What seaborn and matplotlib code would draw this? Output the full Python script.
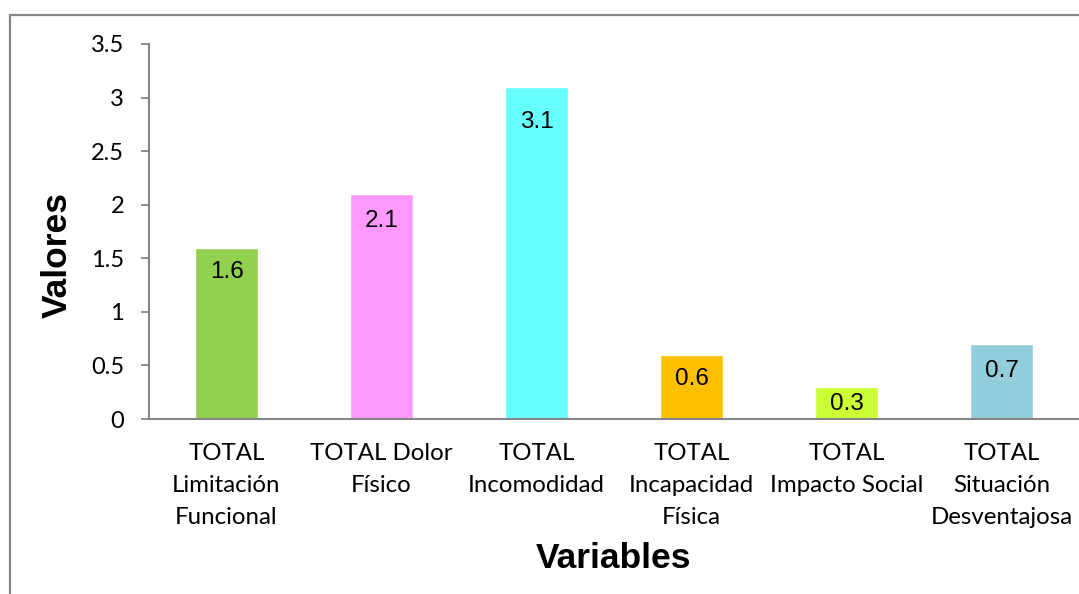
import matplotlib
matplotlib.use("Agg")
import matplotlib.pyplot as plt
import seaborn as sns
import pandas as pd
from matplotlib.patches import Rectangle

categories = ["TOTAL\nLimitación\nFuncional", "TOTAL Dolor\nFísico", "TOTAL\nIncomodidad",
              "TOTAL\nIncapacidad\nFísica", "TOTAL\nImpacto Social", "TOTAL\nSituación\nDesventajosa"]
values = [1.6, 2.1, 3.1, 0.6, 0.3, 0.7]
colors = ["#92D050", "#FF99FF", "#66FFFF", "#FFC000", "#CCFF33", "#92CDDC"]
yticks = [0, 0.5, 1, 1.5, 2, 2.5, 3, 3.5]
ytick_labels = ["0", "0.5", "1", "1.5", "2", "2.5", "3", "3.5"]
# vertical offset (px) of each value label below its bar top, as in the reference
label_offsets_px = [24, 27, 35, 24, 17, 27]

sns.set_theme(style="white")
plt.rcParams['font.family'] = ['Lato', 'DejaVu Sans']
plt.rcParams['text.color'] = 'black'

W, H = 1079, 594
fig = plt.figure(figsize=(W / 100, H / 100), dpi=100)
ax = fig.add_axes([149 / W, 1 - 419 / H, (1079 - 149) / W, (419 - 44) / H])

df = pd.DataFrame({"cat": categories, "val": values})
sns.barplot(data=df, x="cat", y="val", hue="cat", palette=colors, legend=False,
            width=0.406, ax=ax, saturation=1)

ax.set_ylim(0, 3.5)
ax.set_xlim(-0.5, len(categories) - 0.5)
ax.set_yticks(yticks)
ax.set_yticklabels(ytick_labels, fontsize=17, color="black")
ax.tick_params(axis="y", which="both", left=True, length=6, width=1.3, color="#868686", pad=12)
ax.tick_params(axis="x", bottom=False, labelsize=17.3, labelcolor="black", pad=11)
for lbl in ax.get_xticklabels():
    lbl.set_linespacing(1.65)

for s in ["top", "right"]:
    ax.spines[s].set_visible(False)
for s in ["left", "bottom"]:
    ax.spines[s].set_color("#868686")
    ax.spines[s].set_linewidth(1.5)

for p, v, off in zip(ax.patches, values, label_offsets_px):
    ax.annotate(f"{v}", (p.get_x() + p.get_width() / 2, p.get_height()),
                xytext=(0, -off * 0.72), textcoords="offset points", ha="center", va="center",
                fontsize=17.5, family="Liberation Sans", color="black")

ax.set_xlabel("")
ax.set_ylabel("")
fig.text(57 / W, 1 - 255 / H, "Valores", rotation=90, ha="center", va="center",
         fontsize=25.5, fontweight="bold", family="Liberation Sans", color="black")
fig.text(614 / W, 1 - 559 / H, "Variables", ha="center", va="center",
         fontsize=25.5, fontweight="bold", family="Liberation Sans", color="black")

fig.patches.append(Rectangle((10 / W, -0.1), 1.2, 1 - 15 / H + 0.1, transform=fig.transFigure,
                             fill=False, edgecolor="#868686", linewidth=1.6, zorder=0))

fig.savefig("out.png", dpi=100)
